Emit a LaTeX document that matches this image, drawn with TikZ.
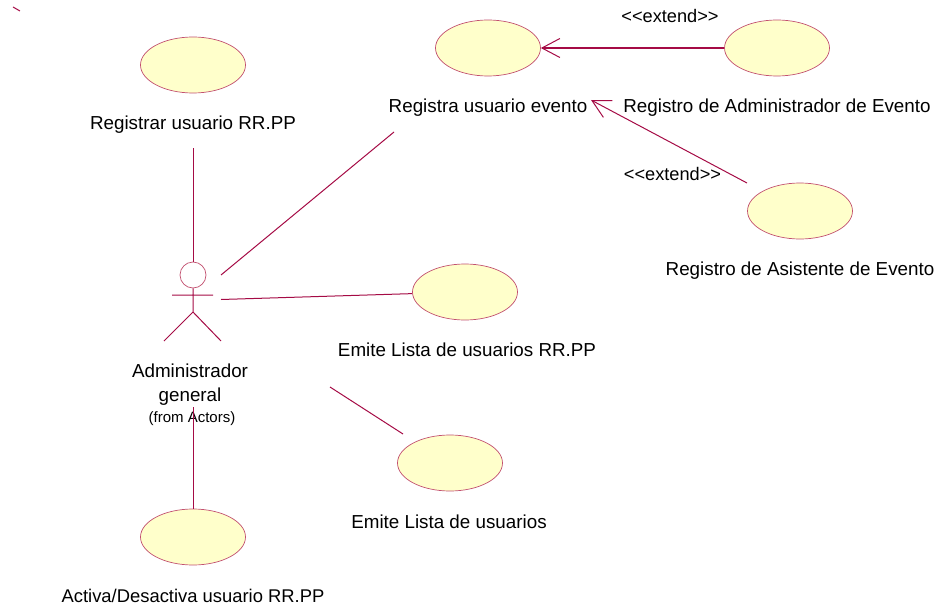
\documentclass[tikz,border=0pt]{standalone}
\usepackage{fontspec}
\setmainfont{Liberation Sans}
\usetikzlibrary{arrows.meta}
\usetikzlibrary{shapes.geometric}
\definecolor{umlline}{HTML}{A50B45}
\definecolor{umledge}{HTML}{C2506F}
\definecolor{umlfill}{HTML}{FFFFCB}
\tikzset{
    usecase/.style={ellipse, draw=umledge, fill=umlfill, line width=0.7pt, minimum width=105pt, minimum height=56pt, inner sep=0pt},
    caption/.style={inner sep=0pt, text height=14pt, text depth=0pt, font=\fontsize{18.8}{20}\selectfont},
    stereotype/.style={caption, font=\fontsize{18.2}{20}\selectfont},
    assoc/.style={draw=umlline, line width=1pt},
    extendarrow/.style={assoc, -{Straight Barb[length=18pt, width=19pt, line width=1pt]}}
}
\begin{document}
\begin{tikzpicture}[x=1pt, y=-1pt]
            \useasboundingbox (0,0) rectangle (939,607);
            \node [usecase] (U1) at (193,65)  {};
            \node [usecase] (U2) at (488,48)  {};
            \node [usecase] (U3) at (777,48)  {};
            \node [usecase] (U4) at (800,211) {};
            \node [usecase] (U5) at (465,292) {};
            \node [usecase] (U6) at (450,463) {};
            \node [usecase] (U7) at (193,537) {};
            \node [caption] (L1) at (193,122) {Registrar usuario RR.PP};
            \node [caption] (L2) at (488,106) {Registra usuario evento};
            \node [caption] (L3) at (777,106) {Registro de Administrador de Evento};
            \node [caption] (L4) at (800,268) {Registro de Asistente de Evento};
            \node [caption] (L5) at (467,349) {Emite Lista de usuarios RR.PP};
            \node [caption] (L6) at (449,521) {Emite Lista de usuarios};
            \node [caption, font=\fontsize{18.4}{20}\selectfont] (L7) at (193,595) {Activa/Desactiva usuario RR.PP};
            \node [stereotype] (E1) at (670,16)  {<{}<extend>{}>};
            \node [stereotype] (E2) at (672.5,173) {<{}<extend>{}>};
            \node [caption] (A1) at (190,370) {Administrador};
            \node [caption] (A2) at (190,394) {general};
            \node [caption, text height=10pt, font=\fontsize{15}{15}\selectfont] (A3) at (192,417) {(from Actors)};
            \node [circle, draw=umledge, line width=0.7pt, minimum size=26pt, inner sep=0pt] (Head) at (193,275) {};
            \coordinate (Hip) at (193,312);
            \coordinate (ArmL) at (172,295);
            \coordinate (ArmR) at (213,295);
            \coordinate (FootL) at (164,341);
            \coordinate (FootR) at (221,341);
            \draw [assoc] (Head) -- (Hip) (ArmL) -- (ArmR) (FootL) -- (Hip) -- (FootR);
            \coordinate (Tick1) at (13,7);
            \coordinate (Tick2) at (20,11);
            \coordinate (C1) at (193,148);
            \coordinate (C2) at (221,275);
            \coordinate (C3) at (394,132);
            \coordinate (C4) at (221,299.5);
            \coordinate (C5) at (330,387);
            \coordinate (C6) at (403,434);
            \coordinate (C7) at (193,407);
            \coordinate (C8) at (747,183);
            \coordinate (C9) at (591,100);
            \draw [assoc] (Tick1) -- (Tick2);
            \draw [assoc] (C1) -- (Head);
            \draw [assoc] (C2) -- (C3);
            \draw [assoc] (C4) -- (U5);
            \draw [assoc] (C5) -- (C6);
            \draw [assoc] (C7) -- (U7);
            \draw [extendarrow, line width=1.4pt] (U3) -- (U2);
            \draw [extendarrow] (C8) -- (C9);
        \end{tikzpicture}
\end{document}
